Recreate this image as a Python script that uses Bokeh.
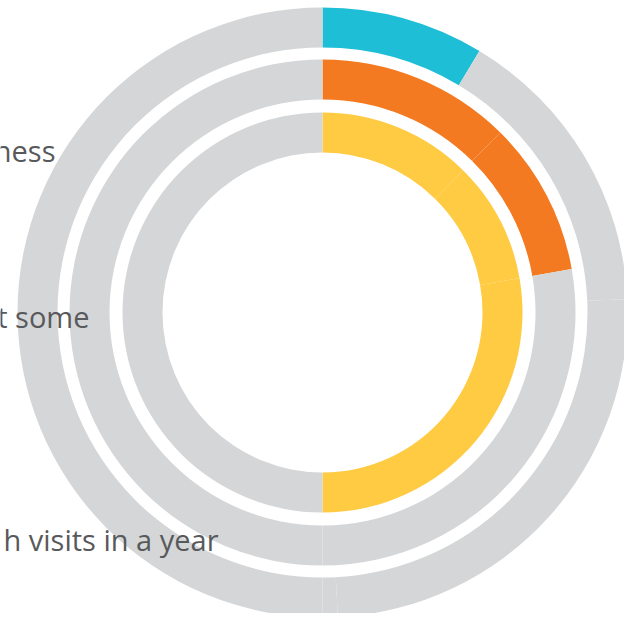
import math
from bokeh.plotting import figure
from bokeh.models import Range1d, ColumnDataSource
from bokeh.embed import file_html
from bokeh.resources import INLINE
from bokeh.core.properties import value

# ---- data (percent of a full circle, clockwise from 12 o'clock) ----
ring_labels = ["ness", "t some", "h visits in a year"]
outer_highlight = [8.6]
outer_rest = [15.7, 24.9, 0.8, 50.0]
middle_highlight = [12.4, 9.85]
middle_rest = [27.75, 50.0]
inner_highlight = [12.4, 9.85, 27.75]
inner_rest = [50.0]

# ---- styling / layout ----
CYAN = "#1dbed6"
ORANGE = "#f47a22"
YELLOW = "#ffcb43"
GRAY = "#d5d6d8"
TEXT = "#58595b"

W, H = 624, 613
CX, CY = 322, H - 312   # centre (data y = H - screen y)
rings = [
    (outer_highlight, outer_rest, CYAN, 265, 305),
    (middle_highlight, middle_rest, ORANGE, 213, 253),
    (inner_highlight, inner_rest, YELLOW, 160, 200),
]

p = figure(width=W, height=H, x_range=Range1d(0, W), y_range=Range1d(0, H),
           output_backend="svg", toolbar_location=None,
           x_axis_location=None, y_axis_location=None,
           min_border=0, min_border_left=0, min_border_right=0,
           min_border_top=0, min_border_bottom=0)
p.outline_line_color = None
p.grid.visible = False
p.background_fill_color = "white"
p.border_fill_color = "white"

for hi, rest, col, r0, r1 in rings:
    vals = list(hi) + list(rest)
    cols = [col] * len(hi) + [GRAY] * len(rest)
    starts, ends = [], []
    cum = 0.0
    for v in vals:
        a0 = math.pi / 2 - 2 * math.pi * (cum + v) / 100.0
        a1 = math.pi / 2 - 2 * math.pi * cum / 100.0
        starts.append(a0)
        ends.append(a1)
        cum += v
    src = ColumnDataSource(dict(x=[CX] * len(vals), y=[CY] * len(vals),
                                start=starts, end=ends, color=cols))
    p.annular_wedge(x="x", y="y", inner_radius=r0, outer_radius=r1,
                    start_angle="start", end_angle="end", direction="anticlock",
                    fill_color="color", line_color=None, source=src)

label_x = [55, 89, 218]
label_y = [H - 150, H - 316, H - 539]
p.text(x=label_x, y=label_y, text=ring_labels, text_align="right",
       text_baseline="alphabetic", text_font=value("Open Sans"),
       text_font_size="29px", text_color=TEXT)

open("out.html", "w").write(file_html(p, INLINE))
